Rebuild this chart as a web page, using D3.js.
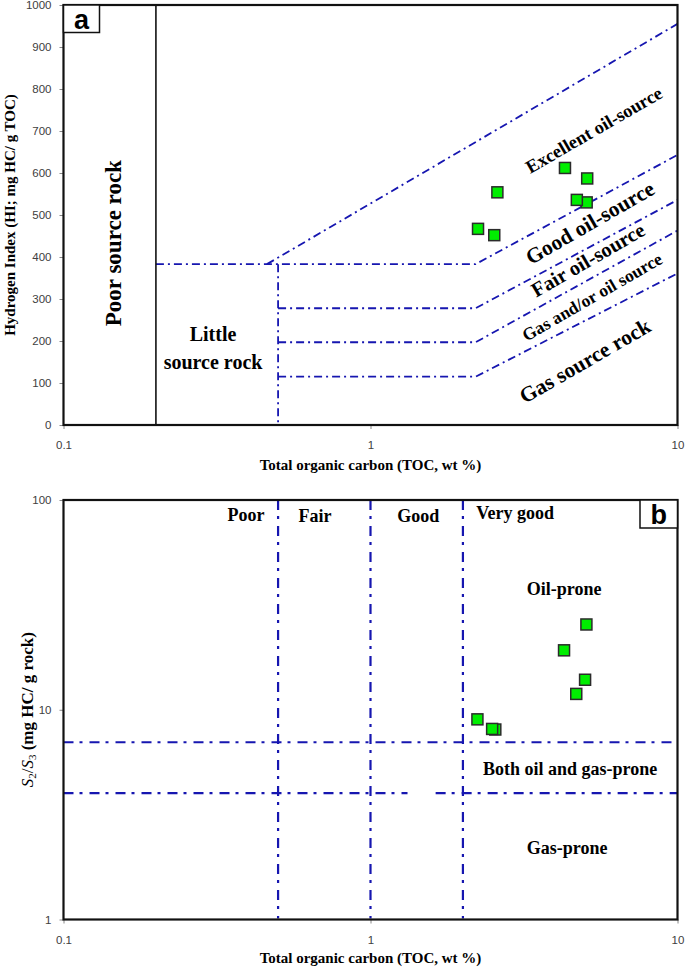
<!DOCTYPE html>
<html><head><meta charset="utf-8">
<script src="https://cdn.jsdelivr.net/npm/d3@7"></script>
<style>
html,body{margin:0;padding:0;background:#fff;}
svg{display:block;}
.tick text{font-family:"Liberation Sans",Arial,sans-serif;font-size:11.5px;fill:#404040;}
.lbl{font-family:"Liberation Serif","Times New Roman",serif;font-weight:bold;fill:#000;}
</style></head>
<body>
<script>
// ---------- data ----------
const tocA = [2.24, 2.59, 4.30, 5.08, 5.06, 4.70, 2.53];
const hiA  = [467, 554, 612, 587, 530, 536, 452];
const tocB = [2.23, 2.55, 2.49, 4.27, 4.68, 5.00, 5.05];
const s2s3B = [9.0, 8.05, 8.1, 19.2, 11.9, 13.9, 25.5];

const xTicks = [0.1, 1, 10];
const hiTicks = [0,100,200,300,400,500,600,700,800,900,1000];
const s2s3Ticks = [1, 10, 100];

const poorTocLimit = 0.2;
const littleTocLimit = 0.5;
const tocBreak = 2.2;
const hiLevels = [383, 278, 197, 115];
const hiRightEnds = [643, 536, 463, 361];
const excellentLine = [[0.46, 383], [10, 955]];

const tocClasses = [0.5, 1, 2];
const s2s3Levels = [7, 4];

// ---------- setup ----------
const W = 685, H = 967;
const svg = d3.select("body").append("svg").attr("width", W).attr("height", H);
svg.append("rect").attr("width", W).attr("height", H).attr("fill", "#fff");

const BLUE = "#1616b0";

function drawAxes(g, x, y, yTickVals, yFmt, top, bottom) {
  const xa = g.append("g").attr("transform", `translate(0,${bottom})`)
    .call(d3.axisBottom(x).tickValues(xTicks).tickFormat(d3.format("~g")).tickSize(4).tickPadding(12));
  const ya = g.append("g").attr("transform", `translate(${x.range()[0]},0)`)
    .call(d3.axisLeft(y).tickValues(yTickVals).tickFormat(yFmt).tickSize(4).tickPadding(8));
  [xa, ya].forEach(a => { a.select(".domain").remove(); a.selectAll(".tick line").attr("stroke", "#888"); });
  g.append("rect").attr("x", x.range()[0]).attr("y", top)
    .attr("width", x.range()[1] - x.range()[0]).attr("height", bottom - top)
    .attr("fill", "none").attr("stroke", "#111").attr("stroke-width", 2.2);
}

function points(g, x, y, xs, ys) {
  g.append("g").selectAll("rect").data(xs.map((d, i) => [d, ys[i]])).join("rect")
    .attr("x", d => x(d[0]) - 5.5).attr("y", d => y(d[1]) - 5.5)
    .attr("width", 11).attr("height", 11)
    .attr("fill", "#00ee00").attr("stroke", "#2b2b2b").attr("stroke-width", 1.5);
}

function panelLabel(g, x0, y0, w, h, t) {
  g.append("rect").attr("x", x0).attr("y", y0).attr("width", w).attr("height", h)
    .attr("fill", "#fff").attr("stroke", "#111").attr("stroke-width", 1.5);
  g.append("text").attr("x", x0 + w / 2).attr("y", y0 + h / 2 + 1)
    .attr("text-anchor", "middle").attr("dominant-baseline", "central")
    .attr("font-family", "Liberation Sans, Arial, sans-serif").attr("font-weight", "bold")
    .attr("font-size", 27).text(t);
}

const line = d3.line();

// ---------- panel a ----------
{
  const top = 5, bottom = 425, left = 63.5, right = 677.5;
  const x = d3.scaleLog().domain([0.1, 10]).range([left, right]);
  const y = d3.scaleLinear().domain([0, 1000]).range([bottom, top]);
  const g = svg.append("g");

  const guides = [];
  guides.push([[poorTocLimit, hiLevels[0]], [tocBreak, hiLevels[0]], [10, hiRightEnds[0]]]);
  for (let i = 1; i < hiLevels.length; i++)
    guides.push([[littleTocLimit, hiLevels[i]], [tocBreak, hiLevels[i]], [10, hiRightEnds[i]]]);
  guides.push(excellentLine);
  guides.push([[littleTocLimit, hiLevels[0]], [littleTocLimit, 0]]);
  g.append("g").selectAll("path").data(guides).join("path")
    .attr("d", d => line(d.map(p => [x(p[0]), y(p[1])])))
    .attr("fill", "none").attr("stroke", BLUE).attr("stroke-width", 1.8)
    .attr("stroke-dasharray", "8,4,2,4");

  g.append("line").attr("x1", x(poorTocLimit)).attr("x2", x(poorTocLimit))
    .attr("y1", y(1000)).attr("y2", y(0)).attr("stroke", "#111").attr("stroke-width", 1.6);

  drawAxes(g, x, y, hiTicks, d3.format("d"), top, bottom);
  points(g, x, y, tocA, hiA);

  g.append("text").attr("class", "lbl").attr("font-size", 23)
    .attr("transform", `translate(${x(0.145)},${y(433)}) rotate(-90)`)
    .attr("text-anchor", "middle").attr("dominant-baseline", "central").text("Poor source rock");
  g.append("text").attr("class", "lbl").attr("font-size", 20).attr("text-anchor", "middle")
    .attr("x", x(0.307)).attr("y", y(217)).attr("dominant-baseline", "central").text("Little");
  g.append("text").attr("class", "lbl").attr("font-size", 20).attr("text-anchor", "middle")
    .attr("x", x(0.307)).attr("y", y(150)).attr("dominant-baseline", "central").text("source rock");

  const diag = [
    ["Excellent oil-source", 5.35, 702, 18.5],
    ["Good oil-source", 5.19, 481, 21.5],
    ["Fair oil-source", 5.11, 393, 20.5],
    ["Gas and/or oil source", 5.27, 305, 17.5],
    ["Gas source rock", 5.0, 152, 21.5]
  ];
  diag.forEach(([t, tx, ty, fs]) => {
    g.append("text").attr("class", "lbl").attr("font-size", fs)
      .attr("transform", `translate(${x(tx)},${y(ty)}) rotate(-30)`)
      .attr("text-anchor", "middle").attr("dominant-baseline", "central").text(t);
  });

  panelLabel(g, left, top, 36, 27.5, "a");

  g.append("text").attr("class", "lbl").attr("font-size", 15)
    .attr("x", x(1)).attr("y", 470).attr("text-anchor", "middle")
    .text("Total organic carbon (TOC, wt %)");
  g.append("text").attr("class", "lbl").attr("font-size", 15)
    .attr("transform", `translate(15,${(top + bottom) / 2}) rotate(-90)`)
    .attr("text-anchor", "middle").text("Hydrogen Index (HI; mg HC/ g TOC)");
}

// ---------- panel b ----------
{
  const top = 500, bottom = 919.5, left = 63.5, right = 677.5;
  const x = d3.scaleLog().domain([0.1, 10]).range([left, right]);
  const y = d3.scaleLog().domain([1, 100]).range([bottom, top]);
  const g = svg.append("g");

  const guides = [];
  tocClasses.forEach(t => guides.push([[t, 100], [t, 1.01]]));
  guides.push([[0.1, s2s3Levels[0]], [10, s2s3Levels[0]]]);
  guides.push([[0.1, s2s3Levels[1]], [1.32, s2s3Levels[1]]]);
  guides.push([[1.63, s2s3Levels[1]], [10, s2s3Levels[1]]]);
  g.append("g").selectAll("path").data(guides).join("path")
    .attr("d", d => line(d.map(p => [x(p[0]), y(p[1])])))
    .attr("fill", "none").attr("stroke", BLUE).attr("stroke-width", 2.2)
    .attr("stroke-dasharray", "10,6,3,7");

  drawAxes(g, x, y, s2s3Ticks, d3.format("d"), top, bottom);
  points(g, x, y, tocB, s2s3B);

  const labels = [
    ["Poor", 0.393, 85],
    ["Fair", 0.66, 84],
    ["Good", 1.43, 84],
    ["Very good", 2.96, 87],
    ["Oil-prone", 4.27, 37.6],
    ["Both oil and gas-prone", 4.47, 5.21],
    ["Gas-prone", 4.37, 2.19]
  ];
  labels.forEach(([t, tx, ty]) => {
    g.append("text").attr("class", "lbl").attr("font-size", 18)
      .attr("x", x(tx)).attr("y", y(ty)).attr("text-anchor", "middle")
      .attr("dominant-baseline", "central").text(t);
  });

  panelLabel(g, 640, top, 37.5, 28, "b");

  g.append("text").attr("class", "lbl").attr("font-size", 15)
    .attr("x", x(1)).attr("y", 963).attr("text-anchor", "middle")
    .text("Total organic carbon (TOC, wt %)");
  const yt = g.append("text").attr("class", "lbl").attr("font-size", 17)
    .attr("transform", `translate(33,${(top + bottom) / 2}) rotate(-90)`)
    .attr("text-anchor", "middle");
  yt.append("tspan").attr("font-style", "italic").attr("font-weight", "normal").text("S");
  yt.append("tspan").attr("font-weight", "normal").attr("font-size", 11).attr("dy", 3).text("2");
  yt.append("tspan").attr("font-weight", "normal").attr("dy", -3).text("/");
  yt.append("tspan").attr("font-style", "italic").attr("font-weight", "normal").text("S");
  yt.append("tspan").attr("font-weight", "normal").attr("font-size", 11).attr("dy", 3).text("3");
  yt.append("tspan").attr("dy", -3).text(" (mg HC/ g rock)");
}
</script>
</body></html>
